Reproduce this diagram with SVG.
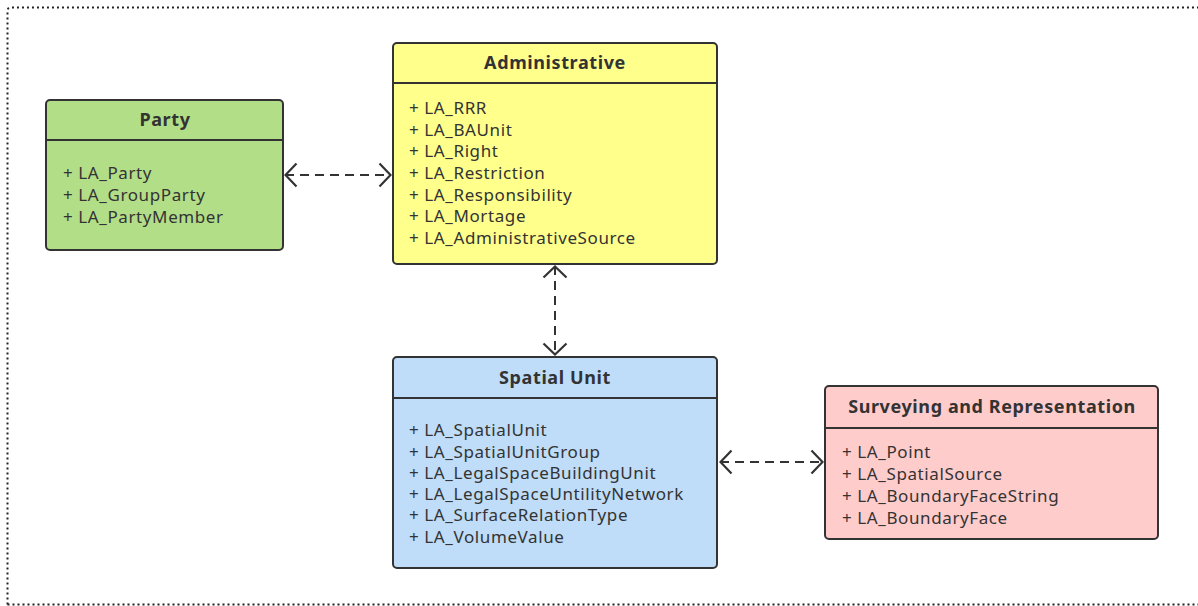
<svg xmlns="http://www.w3.org/2000/svg" width="1198" height="606" viewBox="0 0 1198 606">
  <style>
    .box { stroke: #333333; stroke-width: 2; }
    .div { stroke: #333333; stroke-width: 2; }
    .title { font-family: "Noto Sans", "Open Sans", sans-serif; font-size: 18px; font-weight: bold; letter-spacing: 0.6px; fill: #333333; text-anchor: middle; }
    .item { font-family: "Noto Sans", "Open Sans", sans-serif; font-size: 17px; letter-spacing: 0.6px; fill: #333333; }
    .conn { fill: none; stroke: #333333; stroke-width: 2; stroke-dasharray: 9 6; }
  </style>
  <defs>
    <!-- open V arrowhead, used at both ends of every connector -->
    <marker id="open" viewBox="0 0 14 26" refX="13" refY="13" markerWidth="14" markerHeight="26" markerUnits="userSpaceOnUse" orient="auto-start-reverse">
      <path d="M1.5,1.5 L12.5,13 L1.5,24.5" fill="none" stroke="#333333" stroke-width="2.2"/>
    </marker>
  </defs>

  <rect width="1198" height="606" fill="#ffffff"/>
  <!-- dotted page frame -->
  <path d="M7.5,604.5 L7.5,11 Q7.5,7.5 11,7.5 L1210,7.5 M7.5,604.5 L1210,604.5" fill="none" stroke="#222222" stroke-width="2" stroke-dasharray="2 3"/>

  <g id="connectors">
    <line class="conn" x1="285" y1="175" x2="391" y2="175" marker-start="url(#open)" marker-end="url(#open)"/>
    <line class="conn" x1="555" y1="266" x2="555" y2="355" marker-start="url(#open)" marker-end="url(#open)"/>
    <line class="conn" x1="720" y1="462" x2="823" y2="462" marker-start="url(#open)" marker-end="url(#open)"/>
  </g>

  <g id="party">
    <rect class="box" x="46" y="100" width="237" height="150" rx="4" fill="#b3de88"/>
    <line class="div" x1="46" y1="140" x2="283" y2="140"/>
    <text class="title" x="165" y="126">Party</text>
    <text class="item" x="63" y="179">+ LA_Party</text>
    <text class="item" x="63" y="201">+ LA_GroupParty</text>
    <text class="item" x="63" y="223">+ LA_PartyMember</text>
  </g>

  <g id="administrative">
    <rect class="box" x="393" y="43" width="324" height="221" rx="4" fill="#ffff8c"/>
    <line class="div" x1="393" y1="83" x2="717" y2="83"/>
    <text class="title" x="555" y="69">Administrative</text>
    <text class="item" x="409" y="114">+ LA_RRR</text>
    <text class="item" x="409" y="136">+ LA_BAUnit</text>
    <text class="item" x="409" y="157">+ LA_Right</text>
    <text class="item" x="409" y="179">+ LA_Restriction</text>
    <text class="item" x="409" y="201">+ LA_Responsibility</text>
    <text class="item" x="409" y="222">+ LA_Mortage</text>
    <text class="item" x="409" y="244">+ LA_AdministrativeSource</text>
  </g>

  <g id="spatial-unit">
    <rect class="box" x="393" y="357" width="324" height="211" rx="4" fill="#bfdcf8"/>
    <line class="div" x1="393" y1="398" x2="717" y2="398"/>
    <text class="title" x="555" y="384">Spatial Unit</text>
    <text class="item" x="409" y="436">+ LA_SpatialUnit</text>
    <text class="item" x="409" y="458">+ LA_SpatialUnitGroup</text>
    <text class="item" x="409" y="479">+ LA_LegalSpaceBuildingUnit</text>
    <text class="item" x="409" y="500">+ LA_LegalSpaceUntilityNetwork</text>
    <text class="item" x="409" y="521">+ LA_SurfaceRelationType</text>
    <text class="item" x="409" y="543">+ LA_VolumeValue</text>
  </g>

  <g id="surveying">
    <rect class="box" x="825" y="386" width="333" height="153" rx="4" fill="#ffcccc"/>
    <line class="div" x1="825" y1="428" x2="1158" y2="428"/>
    <text class="title" x="992" y="413">Surveying and Representation</text>
    <text class="item" x="842" y="458">+ LA_Point</text>
    <text class="item" x="842" y="480">+ LA_SpatialSource</text>
    <text class="item" x="842" y="502">+ LA_BoundaryFaceString</text>
    <text class="item" x="842" y="524">+ LA_BoundaryFace</text>
  </g>
</svg>
